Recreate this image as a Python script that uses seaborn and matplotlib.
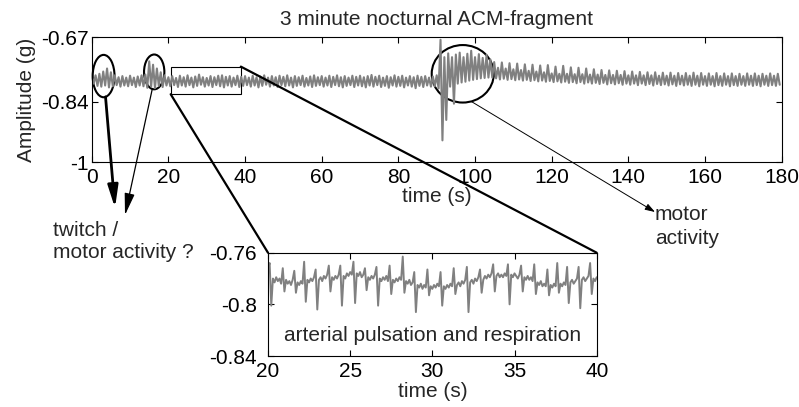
import numpy as np
import pandas as pd
import matplotlib.pyplot as plt
import seaborn as sns
from matplotlib.patches import Ellipse, Rectangle, ConnectionPatch

# --- data ---
# main trace: upper / lower edge of the signal, one pair per second (0..179 s)
main_hi = [
    -0.774, -0.770, -0.766, -0.760, -0.752, -0.762, -0.770, -0.775, -0.772, -0.776,
    -0.771, -0.776, -0.773, -0.770, -0.768, -0.733, -0.742, -0.752, -0.762, -0.770,
    -0.775, -0.772, -0.777, -0.771, -0.775, -0.770, -0.776, -0.773, -0.768, -0.775,
    -0.777, -0.772, -0.775, -0.771, -0.770, -0.774, -0.772, -0.776, -0.771, -0.774,
    -0.772, -0.776, -0.771, -0.775, -0.773, -0.770, -0.776, -0.772, -0.775, -0.771,
    -0.774, -0.770, -0.776, -0.772, -0.775, -0.771, -0.777, -0.773, -0.770, -0.775,
    -0.772, -0.776, -0.771, -0.774, -0.770, -0.775, -0.772, -0.776, -0.771, -0.774,
    -0.771, -0.775, -0.772, -0.769, -0.774, -0.771, -0.776, -0.772, -0.775, -0.770,
    -0.774, -0.771, -0.776, -0.772, -0.775, -0.771, -0.774, -0.772, -0.776, -0.773,
    -0.770, -0.676, -0.722, -0.712, -0.722, -0.715, -0.710, -0.722, -0.713, -0.705,
    -0.722, -0.714, -0.724, -0.716, -0.728, -0.735, -0.750, -0.736, -0.752, -0.738,
    -0.754, -0.739, -0.756, -0.741, -0.758, -0.742, -0.760, -0.744, -0.762, -0.743,
    -0.765, -0.747, -0.766, -0.745, -0.766, -0.749, -0.767, -0.750, -0.767, -0.752,
    -0.768, -0.754, -0.768, -0.756, -0.769, -0.757, -0.769, -0.758, -0.769, -0.759,
    -0.770, -0.760, -0.770, -0.761, -0.770, -0.762, -0.770, -0.762, -0.771, -0.763,
    -0.771, -0.763, -0.771, -0.764, -0.771, -0.764, -0.771, -0.763, -0.771, -0.764,
    -0.772, -0.765, -0.772, -0.764, -0.772, -0.765, -0.772, -0.765, -0.772, -0.766,
    -0.772, -0.765, -0.771, -0.765, -0.771, -0.766, -0.771, -0.765, -0.771, -0.766,
]
main_lo = [
    -0.792, -0.798, -0.800, -0.797, -0.802, -0.799, -0.796, -0.800, -0.797, -0.799,
    -0.796, -0.801, -0.797, -0.799, -0.803, -0.800, -0.804, -0.798, -0.801, -0.797,
    -0.799, -0.796, -0.801, -0.797, -0.800, -0.796, -0.802, -0.798, -0.795, -0.800,
    -0.797, -0.801, -0.796, -0.799, -0.802, -0.797, -0.800, -0.796, -0.801, -0.798,
    -0.796, -0.800, -0.797, -0.802, -0.798, -0.795, -0.800, -0.797, -0.801, -0.796,
    -0.799, -0.797, -0.802, -0.798, -0.796, -0.800, -0.797, -0.801, -0.798, -0.796,
    -0.800, -0.797, -0.801, -0.796, -0.799, -0.802, -0.798, -0.796, -0.801, -0.797,
    -0.799, -0.802, -0.797, -0.800, -0.796, -0.801, -0.798, -0.803, -0.797, -0.800,
    -0.798, -0.802, -0.797, -0.800, -0.804, -0.798, -0.801, -0.797, -0.800, -0.799,
    -0.805, -0.942, -0.888, -0.800, -0.845, -0.792, -0.789, -0.787, -0.784, -0.782,
    -0.780, -0.778, -0.777, -0.776, -0.776, -0.778, -0.781, -0.779, -0.782, -0.780,
    -0.783, -0.781, -0.784, -0.782, -0.785, -0.783, -0.786, -0.784, -0.787, -0.785,
    -0.788, -0.786, -0.789, -0.787, -0.790, -0.788, -0.791, -0.788, -0.792, -0.789,
    -0.792, -0.790, -0.793, -0.790, -0.794, -0.791, -0.794, -0.791, -0.795, -0.792,
    -0.795, -0.792, -0.796, -0.792, -0.796, -0.793, -0.797, -0.793, -0.796, -0.794,
    -0.797, -0.794, -0.798, -0.794, -0.797, -0.795, -0.798, -0.795, -0.799, -0.795,
    -0.798, -0.795, -0.799, -0.796, -0.798, -0.795, -0.799, -0.796, -0.798, -0.795,
    -0.798, -0.795, -0.798, -0.796, -0.799, -0.795, -0.798, -0.796, -0.798, -0.795,
]
# zoomed fragment 20-40 s, 10 samples per second
inset_start = 20
inset_rate = 10
inset_amp = [
    -0.772, -0.768, -0.801, -0.780, -0.783, -0.779, -0.782, -0.780, -0.784, -0.772,
    -0.790, -0.781, -0.784, -0.782, -0.785, -0.781, -0.774, -0.791, -0.783, -0.785,
    -0.782, -0.784, -0.767, -0.798, -0.781, -0.783, -0.780, -0.782, -0.779, -0.773,
    -0.804, -0.781, -0.779, -0.782, -0.778, -0.780, -0.777, -0.770, -0.790, -0.779,
    -0.781, -0.778, -0.780, -0.777, -0.770, -0.801, -0.778, -0.780, -0.776, -0.778,
    -0.775, -0.777, -0.767, -0.799, -0.776, -0.778, -0.775, -0.779, -0.777, -0.772,
    -0.789, -0.779, -0.781, -0.778, -0.780, -0.777, -0.771, -0.801, -0.780, -0.782,
    -0.779, -0.781, -0.778, -0.782, -0.770, -0.792, -0.781, -0.783, -0.780, -0.782,
    -0.779, -0.781, -0.763, -0.791, -0.782, -0.784, -0.781, -0.785, -0.783, -0.775,
    -0.806, -0.785, -0.787, -0.784, -0.788, -0.785, -0.787, -0.773, -0.793, -0.786,
    -0.788, -0.785, -0.787, -0.784, -0.786, -0.775, -0.801, -0.786, -0.788, -0.785,
    -0.787, -0.784, -0.786, -0.772, -0.792, -0.785, -0.783, -0.786, -0.782, -0.784,
    -0.781, -0.771, -0.806, -0.783, -0.781, -0.784, -0.780, -0.782, -0.779, -0.773,
    -0.791, -0.781, -0.778, -0.780, -0.777, -0.779, -0.776, -0.769, -0.790, -0.778,
    -0.776, -0.779, -0.777, -0.779, -0.776, -0.778, -0.769, -0.800, -0.777, -0.779,
    -0.776, -0.778, -0.780, -0.777, -0.770, -0.790, -0.779, -0.781, -0.778, -0.781,
    -0.779, -0.782, -0.769, -0.792, -0.783, -0.785, -0.782, -0.786, -0.784, -0.786,
    -0.773, -0.793, -0.785, -0.787, -0.784, -0.786, -0.768, -0.791, -0.784, -0.786,
    -0.783, -0.785, -0.771, -0.799, -0.783, -0.781, -0.784, -0.782, -0.780, -0.771,
    -0.803, -0.781, -0.779, -0.782, -0.780, -0.778, -0.768, -0.792, -0.780, -0.782,
    -0.779,
]

main_xticks = [0, 20, 40, 60, 80, 100, 120, 140, 160, 180]
main_yticks = [-1, -0.84, -0.67]
main_ylabels = ['-1', '-0.84', '-0.67']
inset_xticks = [20, 25, 30, 35, 40]
inset_yticks = [-0.84, -0.8, -0.76]
inset_ylabels = ['-0.84', '-0.8', '-0.76']

# zigzag between upper and lower edge -> dense band like the recording
sec = np.arange(len(main_hi))
main_df = pd.DataFrame({
    'time': np.column_stack([sec, sec + 0.5]).ravel(),
    'amp': np.column_stack([main_hi, main_lo]).ravel(),
})
inset_df = pd.DataFrame({
    'time': inset_start + np.arange(len(inset_amp)) / inset_rate,
    'amp': inset_amp,
})

sns.set_style('ticks', {'xtick.direction': 'in', 'ytick.direction': 'in'})
plt.rcParams['font.family'] = ['Liberation Sans', 'DejaVu Sans']
FS = 15
trace = '#808080'

fig = plt.figure(figsize=(7.99, 4.07), dpi=100)
ax = fig.add_axes([0.1148, 0.6012, 0.8635, 0.3067])
ax_in = fig.add_axes([0.3354, 0.1253, 0.4114, 0.2538])

# --- main trace ---
sns.lineplot(data=main_df, x='time', y='amp', ax=ax, color=trace, lw=1.5,
             estimator=None, sort=False)
ax.set_xlim(0, 180)
ax.set_ylim(-1, -0.67)
ax.set_xticks(main_xticks)
ax.set_yticks(main_yticks)
ax.set_yticklabels(main_ylabels)
ax.tick_params(top=True, right=True, length=4, width=0.8, labelsize=FS, colors='black')
ax.tick_params(axis='y', pad=2)
ax.tick_params(axis='x', pad=4)
ax.set_xlabel('time (s)', fontsize=FS, labelpad=0)
ax.set_ylabel('Amplitude (g)', fontsize=FS, labelpad=4)
ax.set_title('3 minute nocturnal ACM-fragment', fontsize=FS, pad=9)

# --- inset ---
sns.lineplot(data=inset_df, x='time', y='amp', ax=ax_in, color=trace, lw=1.4,
             estimator=None, sort=False)
ax_in.set_xlim(20, 40)
ax_in.set_ylim(-0.84, -0.76)
ax_in.set_xticks(inset_xticks)
ax_in.set_yticks(inset_yticks)
ax_in.set_yticklabels(inset_ylabels)
ax_in.tick_params(top=True, right=True, length=4, width=0.8, labelsize=FS, colors='black')
ax_in.tick_params(axis='y', pad=8)
ax_in.tick_params(axis='x', pad=4)
ax_in.set_xlabel('time (s)', fontsize=FS, labelpad=1)
ax_in.set_ylabel('')
ax_in.text(0.5, 0.2, 'arterial pulsation and respiration', transform=ax_in.transAxes,
           ha='center', va='center', fontsize=FS)

for a in (ax, ax_in):
    for s in a.spines.values():
        s.set_color('black')
        s.set_linewidth(0.8)

# --- annotations ---
for cx, cy, w, h in [(3.1, -0.772, 5.7, 0.112), (16.3, -0.761, 5.3, 0.092),
                     (96.8, -0.766, 16.2, 0.152)]:
    ax.add_patch(Ellipse((cx, cy), w, h, fill=False, ec='black', lw=1.5, clip_on=False))

ax.add_patch(Rectangle((20.6, -0.820), 18.3, 0.073, fill=False, ec='black', lw=0.8))

for p_main, p_in in [((38.9, -0.747), (40, -0.76)), ((20.6, -0.820), (20, -0.76))]:
    fig.add_artist(ConnectionPatch(xyA=p_main, coordsA=ax.transData,
                                   xyB=p_in, coordsB=ax_in.transData,
                                   color='black', lw=1.6))

head = '-|>,head_length=0.95,head_width=0.22'
ax.annotate('', xy=(115, 199), xycoords='figure pixels', xytext=(3.6, -0.827),
            textcoords='data', annotation_clip=False,
            arrowprops=dict(arrowstyle=head, color='black', lw=2.0, shrinkA=0, shrinkB=0,
                            mutation_scale=14))
ax.annotate('', xy=(125, 192), xycoords='figure pixels', xytext=(15.8, -0.806),
            textcoords='data', annotation_clip=False,
            arrowprops=dict(arrowstyle=head, color='black', lw=0.9, shrinkA=0, shrinkB=0,
                            mutation_scale=14))
ax.annotate('', xy=(655, 195), xycoords='figure pixels', xytext=(99, -0.839),
            textcoords='data', annotation_clip=False,
            arrowprops=dict(arrowstyle='-|>,head_length=0.6,head_width=0.2', color='black',
                            lw=0.7, shrinkA=0, shrinkB=0))

fig.text(53, 407 - 230, 'twitch /', fontsize=FS, va='center', ha='left',
         transform=None)
fig.text(53, 407 - 253, 'motor activity ?', fontsize=FS, va='center', ha='left',
         transform=None)
fig.text(655, 407 - 215, 'motor', fontsize=FS, va='center', ha='left', transform=None)
fig.text(655, 407 - 239, 'activity', fontsize=FS, va='center', ha='left', transform=None)

fig.savefig('out.png', dpi=100)
